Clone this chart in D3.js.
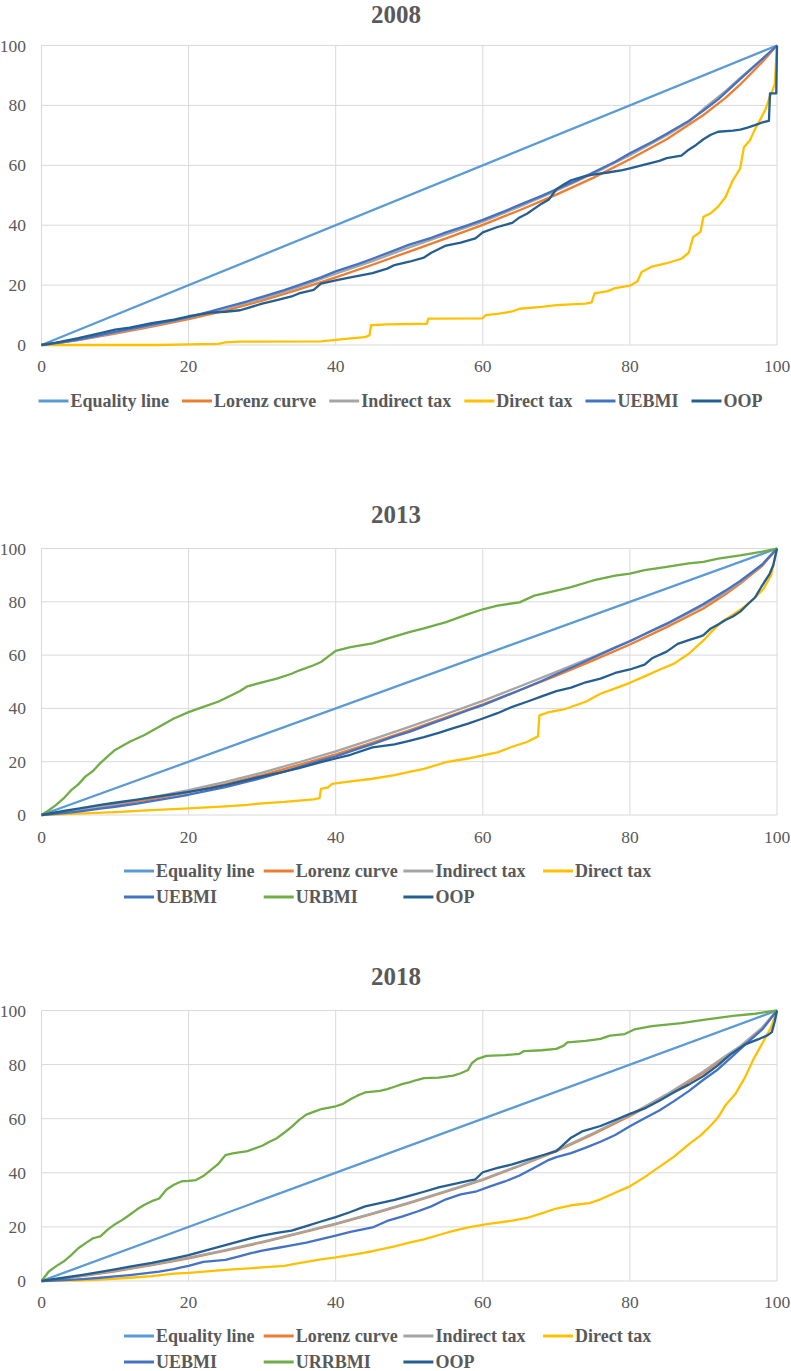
<!DOCTYPE html>
<html><head><meta charset="utf-8">
<script src="https://cdn.jsdelivr.net/npm/d3@7"></script>
<style>
body{margin:0;background:#fff}
svg{display:block}
</style>
</head><body><svg id="c" width="791" height="1371" font-family="'Liberation Serif', 'Times New Roman', serif"></svg>
<script>
// ---------- tick labels ----------
const xTicks = [0, 20, 40, 60, 80, 100];
const yTicks = [0, 20, 40, 60, 80, 100];

// ---------- series names / colours ----------
const seriesNames2008 = ["Equality line", "Lorenz curve", "Indirect tax", "Direct tax", "UEBMI", "OOP"];
const seriesNames2013 = ["Equality line", "Lorenz curve", "Indirect tax", "Direct tax", "UEBMI", "URBMI", "OOP"];
const seriesNames2018 = ["Equality line", "Lorenz curve", "Indirect tax", "Direct tax", "UEBMI", "URRBMI", "OOP"];
const seriesColors = {
  "Equality line": "#5B9BD5", "Lorenz curve": "#ED7D31", "Indirect tax": "#A5A5A5",
  "Direct tax": "#FFC000", "UEBMI": "#4472C4", "URBMI": "#70AD47", "URRBMI": "#70AD47", "OOP": "#255E91"
};

// ---------- data: [cumulative % population, cumulative %] ----------
const equality = [[0,0],[100,100]];

// 2008
const lorenz2008 = [[0,0],[5,1.6],[10,3.8],[15,6.1],[20,8.6],[25,11.5],[30,14.8],[35,18.6],[40,22.6],[45,26.8],[50,31.2],[55,35.6],[60,40.1],[65,45],[70,50.2],[75,55.8],[80,62],[85,68.7],[90,76.8],[93,82.5],[95,87],[98,94.5],[100,100]];
const indirect2008 = [[0,0],[5,1.7],[10,4.1],[15,6.5],[20,9.1],[25,12.1],[30,15.5],[35,19.4],[40,23.8],[45,28],[50,32.6],[55,36.9],[60,41.2],[65,46.2],[70,51.5],[75,57.2],[80,63.4],[85,70],[88,74.5],[90,78.8],[93,84.8],[95,89.2],[98,95.5],[100,100]];
const direct2008 = [[0,0],[16,0],[20,0.2],[24,0.4],[25,0.9],[27,1.1],[38,1.2],[40,1.7],[42,2.2],[44,2.6],[44.6,3.3],[44.8,6.6],[47,6.9],[52.4,7.1],[52.6,8.8],[60,8.9],[60.4,10],[62,10.4],[64,11.2],[65,12.1],[68,12.7],[70,13.3],[74,13.8],[74.8,14.2],[75.2,17.2],[77,18],[78,19],[80,19.8],[81,21.2],[81.6,24.4],[83,26.2],[85,27.3],[87,28.8],[88,30.8],[88.6,36],[89.6,37.8],[90,42.8],[91,44],[92,46.2],[93,49.4],[94,55],[95,59],[95.5,66],[96.3,68.3],[97,72],[97.9,76.1],[98.5,79],[99,82.8],[99.4,85],[99.7,87.2],[100,100]];
const uebmi2008 = [[0,0],[3,1],[5,1.8],[8,3.3],[10,4.4],[13,5.8],[15,6.8],[18,8.2],[20,9.3],[23,11.2],[25,12.6],[28,14.6],[30,16.1],[33,18.3],[35,20],[38,22.6],[40,24.6],[43,27],[45,28.8],[48,31.6],[50,33.5],[53,35.8],[55,37.6],[58,40],[60,41.8],[63,44.7],[65,46.8],[68,49.8],[70,52],[73,55.2],[75,57.6],[78,61.2],[80,64],[83,67.8],[85,70.5],[88,74.8],[90,78.3],[92,82],[94,86.5],[96,91],[98,95.5],[100,100]];
const oop2008 = [[0,0],[2,0.8],[5,2.3],[8,4],[10,5.1],[12,5.8],[15,7.3],[18,8.5],[20,9.6],[23,10.8],[25,11.1],[27,11.6],[28,12.3],[30,13.8],[32,15],[34,16.2],[35,17.2],[37,18.4],[38,20.5],[40,21.6],[42,22.6],[45,24],[47,25.5],[48,26.7],[50,27.8],[52,29.2],[53,30.8],[55,33.2],[57,34.2],[59,35.6],[60,37.6],[62,39.4],[64,40.8],[65,42.6],[66,43.8],[68,47.2],[69,48.6],[70,52],[71,53.6],[72,55],[74,56.5],[75,56.9],[77,57.6],[79,58.4],[80,59],[82,60.2],[84,61.5],[85,62.4],[87,63.2],[88,65.2],[89,66.8],[90,68.7],[91,70.2],[92,71.2],[94,71.6],[95,71.9],[96,72.6],[97,73.4],[98,74.3],[98.9,74.8],[99.05,84],[99.9,84],[100,100]];

// 2013
const lorenz2013 = [[0,0],[5,1.6],[10,3.7],[15,6.0],[20,8.6],[25,11.6],[30,15.0],[35,18.8],[40,22.8],[45,27.2],[50,31.8],[55,36.6],[60,41.5],[65,46.8],[70,52.3],[75,58],[80,64],[85,70.5],[90,77.5],[93,82.8],[95,86.8],[98,93.5],[100,100]];
const indirect2013 = [[0,0],[5,1.9],[10,4.1],[15,6.6],[20,9.3],[25,12.4],[30,15.9],[35,19.8],[40,23.9],[45,28.4],[50,33.1],[55,37.9],[60,42.8],[65,48.2],[70,53.7],[75,59.4],[80,65.3],[85,71.6],[90,78.6],[93,83.6],[95,87.4],[98,94],[100,100]];
const direct2013 = [[0,0],[5,0.5],[10,1.1],[15,1.8],[20,2.5],[25,3.2],[28,3.8],[30,4.4],[33,4.9],[35,5.4],[37,5.9],[37.8,6.3],[38,9.8],[39,10.4],[39.5,11.7],[42,12.6],[45,13.6],[48,15],[50,16.2],[52,17.3],[55,19.8],[58,21.2],[60,22.4],[62,23.5],[64,25.6],[66,27.4],[67.5,29.5],[67.7,37.4],[69,38.6],[71,39.6],[74,42.5],[76,45.5],[78,47.5],[80,49.6],[82,52],[84,54.5],[86,56.8],[88,60.5],[90,65.5],[91,68.5],[92.5,72.5],[94,75.2],[95,77],[97,81.5],[98.2,85],[99.2,90],[100,100]];
const uebmi2013 = [[0,0],[3,0.7],[5,1.3],[8,2.4],[10,3.1],[13,4.3],[15,5.2],[18,6.6],[20,7.6],[23,9.3],[25,10.5],[28,12.5],[30,13.9],[33,16.3],[35,18],[38,20.5],[40,22],[43,24.8],[45,26.6],[48,29.5],[50,31.2],[53,34.3],[55,36.2],[58,39.3],[60,41.2],[63,44.6],[65,46.8],[68,50.3],[70,52.8],[73,56.5],[75,59],[78,62.8],[80,65.2],[83,69.2],[85,71.8],[88,76.2],[90,79.2],[93,84.2],[95,87.8],[98,94],[100,100]];
const urbmi2013 = [[0,0],[1,1.8],[2,3.8],[3,6.2],[4,9.2],[5,11.5],[6,14.5],[7,16.5],[8,19.5],[9,22],[10,24.4],[12,27.5],[14,30],[16,33.1],[18,36.2],[20,38.6],[22,40.6],[24,42.5],[25,43.8],[27,46.5],[28,48.3],[30,49.8],[32,51.2],[34,53],[35,54.2],[37,56.2],[38,57.4],[39,59.5],[40,61.6],[42,63],[45,64.4],[47,66.2],[50,68.6],[52,70],[55,72.4],[58,75.4],[60,77.2],[62,78.6],[65,79.8],[67,82.3],[70,84.2],[72,85.5],[75,88],[78,89.8],[80,90.6],[82,91.9],[85,93.1],[88,94.4],[90,95],[92,96.2],[95,97.4],[98,98.8],[100,100]];
const oop2013 = [[0,0],[3,1.5],[5,2.4],[8,3.8],[10,4.6],[13,5.8],[15,6.6],[18,7.8],[20,8.7],[23,10.1],[25,11.2],[28,13.2],[30,14.5],[33,16.3],[35,17.6],[38,19.8],[40,21.2],[42,22.6],[45,25.4],[47,26.1],[48,26.5],[50,27.8],[52,29.2],[54,30.8],[56,32.6],[58,34.3],[60,36.2],[62,38.2],[64,40.6],[66,42.5],[68,44.5],[70,46.5],[72,47.8],[74,49.8],[76,51.2],[78,53.3],[80,54.6],[82,56.4],[83,58.8],[85,61.3],[86.5,64.2],[88,65.6],[89.5,66.9],[90,67.5],[91,70],[92,71.5],[93,73.2],[94,74.5],[95,76.3],[96,79],[97,81.6],[98,86.2],[99,90.5],[99.5,93.8],[100,100]];

// 2018
const lorenz2018 = [[0,0],[5,1.6],[10,3.6],[15,5.9],[20,8.4],[25,11.2],[30,14.3],[35,17.6],[40,21],[45,24.8],[50,28.8],[55,33],[60,37.4],[65,42.5],[70,48],[75,54.3],[80,61],[85,68.5],[90,77],[93,82.8],[95,86.5],[98,93.5],[100,100]];
const indirect2018 = [[0,0],[5,1.7],[10,3.8],[15,6.1],[20,8.6],[25,11.4],[30,14.5],[35,17.8],[40,21.2],[45,25],[50,29],[55,33.2],[60,37.6],[65,42.7],[70,48.3],[75,54.6],[80,61.4],[85,69],[90,77.5],[93,83.2],[95,86.8],[98,93.7],[100,100]];
const direct2018 = [[0,0],[5.6,0.25],[8,0.5],[12,1.2],[15,1.8],[18,2.7],[20,3],[25,4.1],[30,5],[33,5.6],[35,6.6],[38,8],[40,8.7],[43,10],[45,11],[48,12.8],[50,14.2],[52,15.4],[54,17],[56,18.5],[58,19.8],[61,21.2],[64,22.3],[66,23.3],[68,25],[70,26.8],[72,28],[74.5,28.8],[76,30.2],[78,32.6],[80,35],[82,38.4],[84,42.2],[86,46],[88,50.5],[89.7,54],[91,57.5],[92,60.5],[93,65],[94.3,69],[95.6,75],[96.9,82.5],[98.2,88.8],[99.2,93.8],[100,100]];
const uebmi2018 = [[0,0],[3,0.3],[5.6,0.7],[8,1.2],[10,1.7],[12,2.2],[14,2.8],[16,3.5],[18,4.4],[19,5],[20,5.6],[22,7.1],[25,7.8],[27,9.2],[28.5,10.3],[30,11.2],[32,12.2],[34,13.2],[36,14.2],[38,15.5],[40,16.8],[42,18.2],[45,19.8],[47,22.2],[49,23.8],[51,25.6],[53,27.6],[55,30.2],[57,32],[59,33],[61,35],[63,36.8],[65,39],[67,41.9],[69,44.8],[70,45.8],[72,47.3],[74,49.3],[76,51.5],[78,54],[80,57.2],[82,60.2],[84,63],[86,66.5],[88,70.2],[90,74.4],[92,78.3],[94,83.2],[96,88.2],[98,93],[100,100]];
const urrbmi2018 = [[0,0],[1,3.5],[2,5.5],[3,7.2],[4,9.5],[5,12.1],[6,14],[7,15.8],[8,16.5],[9,19],[10,21],[11,22.6],[12,24.5],[13,26.5],[14,28.2],[15,29.5],[16,30.5],[17,33.8],[18,35.6],[19,36.8],[20,37],[21,37.3],[22,38.8],[23,41],[24,43.2],[25,46.5],[26,47.2],[28,48],[30,50],[31,51.5],[32,52.8],[33,54.8],[34,57],[35,59.5],[36,61.5],[37,62.5],[38,63.5],[40,64.6],[41,65.5],[42,67.2],[43,68.6],[44,69.7],[46,70.3],[47,70.9],[48,71.8],[49,72.8],[50,73.4],[51,74.3],[52,75],[54,75.2],[56,75.9],[57,76.8],[58,78],[58.5,80.5],[59.2,82],[60.5,83.2],[63,83.5],[65,84],[65.6,85],[68,85.3],[70,85.8],[71,87],[71.5,88.2],[74,88.8],[76,89.5],[77.3,90.7],[79.3,91.3],[80.6,93],[83,94.2],[87,95.3],[90,96.5],[94,98],[97,98.8],[100,100]];
const oop2018 = [[0,0],[3,1.2],[5.6,2.3],[8,3.4],[10,4.3],[12,5.3],[15,6.7],[18,8.4],[20,9.6],[23,11.8],[25,13.3],[28,15.5],[30,16.8],[32,17.8],[34,18.6],[36,20.3],[38,22],[40,23.6],[42,25.5],[44,27.6],[46,28.8],[48,30],[50,31.5],[52,33],[54,34.6],[56,35.8],[58,37],[59,37.6],[60,40.2],[62,41.8],[64,43.1],[66,44.8],[68,46.4],[70,48],[71,50.5],[72,53],[73.5,55.3],[76,57.3],[78,59.5],[80,61.8],[82,63.8],[84,66.6],[86,69.8],[88,72.6],[90,75.8],[92,79.8],[93.6,83.6],[95.6,87.4],[97.5,89.4],[98.8,91],[99.3,92],[99.7,96],[100,100]];

// ---------- panels ----------
const panels = [
  { title: "2008", names: seriesNames2008,
    data: [equality, lorenz2008, indirect2008, direct2008, uebmi2008, oop2008],
    layout: { top: 45.5, bottom: 345, titleY: 23, tickY: 372, legendY: [401], grid: false } },
  { title: "2013", names: seriesNames2013,
    data: [equality, lorenz2013, indirect2013, direct2013, uebmi2013, urbmi2013, oop2013],
    layout: { top: 548.5, bottom: 815, titleY: 523, tickY: 843, legendY: [871, 897], grid: true } },
  { title: "2018", names: seriesNames2018,
    data: [equality, lorenz2018, indirect2018, direct2018, uebmi2018, urrbmi2018, oop2018],
    layout: { top: 1010.5, bottom: 1281, titleY: 985, tickY: 1308, legendY: [1336, 1362], grid: true } }
];

const FONT = "'Liberation Serif', 'Times New Roman', serif";
const svg = d3.select("#c");
const LEFT = 41.5, RIGHT = 777;
const textColor = "#595959";

panels.forEach(p => {
  const L = p.layout;
  const x = d3.scaleLinear().domain([0, 100]).range([LEFT, RIGHT]);
  const y = d3.scaleLinear().domain([0, 100]).range([L.bottom, L.top]);
  const g = svg.append("g").attr("font-family", FONT);

  // title
  g.append("text").attr("x", 396).attr("y", L.titleY).attr("text-anchor", "middle")
    .attr("font-family", FONT).attr("font-size", 25).attr("font-weight", "bold")
    .attr("fill", textColor).text(p.title);

  // grid
  g.append("g").selectAll("line").data(yTicks).join("line")
    .attr("x1", LEFT).attr("x2", RIGHT).attr("y1", d => y(d)).attr("y2", d => y(d))
    .attr("stroke", "#D9D9D9").attr("stroke-width", 1);
  g.append("g").selectAll("line").data(xTicks).join("line")
    .attr("x1", d => x(d)).attr("x2", d => x(d)).attr("y1", L.top).attr("y2", L.bottom)
    .attr("stroke", "#D9D9D9").attr("stroke-width", 1);

  // tick labels
  g.append("g").selectAll("text").data(yTicks).join("text")
    .attr("x", 26).attr("y", d => y(d) + 6).attr("text-anchor", "end")
    .attr("font-family", FONT).attr("font-size", 17.5).attr("fill", textColor).text(d => d);
  g.append("g").selectAll("text").data(xTicks).join("text")
    .attr("x", d => x(d)).attr("y", L.tickY).attr("text-anchor", "middle")
    .attr("font-family", FONT).attr("font-size", 17.5).attr("fill", textColor).text(d => d);

  // lines
  const line = d3.line().x(d => x(d[0])).y(d => y(d[1]));
  p.data.forEach((ser, i) => {
    g.append("path").datum(ser).attr("d", line).attr("fill", "none")
      .attr("stroke", seriesColors[p.names[i]]).attr("stroke-width", 2.3)
      .attr("stroke-linejoin", "round");
  });

  // legend
  const lg = g.append("g");
  const items = p.names.map((name, i) => {
    const it = lg.append("g");
    it.append("line").attr("x1", 0).attr("x2", 30).attr("y1", 0).attr("y2", 0)
      .attr("stroke", seriesColors[name]).attr("stroke-width", 3);
    const t = it.append("text").attr("x", 32).attr("y", 6)
      .attr("font-family", FONT).attr("font-size", 18)
      .attr("font-weight", "bold").attr("fill", textColor).text(name);
    return { it, w: 32 + t.node().getComputedTextLength() };
  });
  if (!L.grid) {
    const gap = 13;
    const total = d3.sum(items, d => d.w) + gap * (items.length - 1);
    let cx = 400.5 - total / 2;
    items.forEach(d => { d.it.attr("transform", `translate(${cx},${L.legendY[0]})`); cx += d.w + gap; });
  } else {
    items.forEach((d, i) => {
      const row = i < 4 ? 0 : 1, col = i < 4 ? i : i - 4;
      d.it.attr("transform", `translate(${124 + col * 139.7},${L.legendY[row]})`);
    });
  }
});
</script>
</body></html>
